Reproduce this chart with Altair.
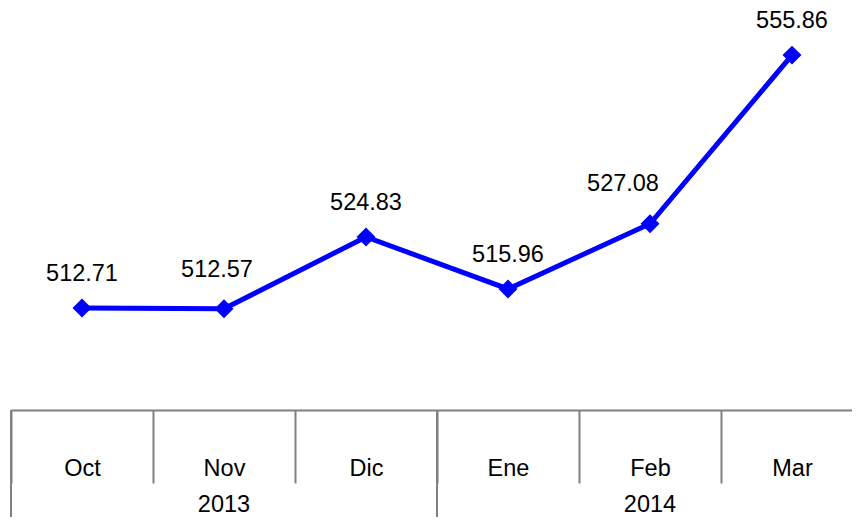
import altair as alt
import pandas as pd

months = ["Oct", "Nov", "Dic", "Ene", "Feb", "Mar"]
values = [512.71, 512.57, 524.83, 515.96, 527.08, 555.86]
labels = ["512.71", "512.57", "524.83", "515.96", "527.08", "555.86"]
years = ["2013", "2014"]
year_mid_month = ["Nov", "Feb"]
year_start_month = ["Oct", "Ene"]

df = pd.DataFrame({"month": months, "value": values, "label": labels})
ydf = pd.DataFrame({"year": years, "mid": year_mid_month, "start": year_start_month})

FONT = "Liberation Sans"
FS = 23.5
W, H = 841, 402
PAD_B = 107
BLUE = "#0000FF"
GRAY = "#808080"

# band scale runs slightly past the right edge of the drawing, as in the original
xscale = alt.Scale(type="band", domain=months, paddingInner=0, paddingOuter=0, range=[0, 852])
xaxis = alt.Axis(
    title=None, orient="bottom", tickBand="extent", tickSize=73,
    tickColor=GRAY, tickWidth=2, domainColor=GRAY, domainWidth=2,
    labelAngle=0, labelFont=FONT, labelFontSize=FS, labelColor="black",
    labelBaseline="middle", labelPadding=-15, grid=False,
)
yscale = alt.Scale(domain=[495.3, 563.9], nice=False, zero=False)


def xenc(field, band=0.5):
    return alt.X(f"{field}:N", scale=xscale, sort=months, axis=xaxis, bandPosition=band)


def yenc():
    return alt.Y("value:Q", scale=yscale, axis=None)


base = alt.Chart(df)
line = base.mark_line(color=BLUE, strokeWidth=5).encode(x=xenc("month"), y=yenc())
pts = base.mark_point(shape="diamond", filled=True, size=360, color=BLUE, opacity=1).encode(
    x=xenc("month"), y=yenc()
)

# data labels: most sit straight above their point, two are nudged clear of the line
nudged = {"Nov": (-7, -39), "Feb": (-27, -40)}
txt_layers = [
    base.transform_filter(
        alt.FieldOneOfPredicate(field="month", oneOf=[m for m in months if m not in nudged])
    ).mark_text(dy=-34, fontSize=FS, font=FONT, baseline="middle", color="black").encode(
        x=xenc("month"), y=yenc(), text="label:N"
    )
]
for m, (ddx, ddy) in nudged.items():
    txt_layers.append(
        base.transform_filter(alt.FieldEqualPredicate(field="month", equal=m))
        .mark_text(dx=ddx, dy=ddy, fontSize=FS, font=FONT, baseline="middle", color="black")
        .encode(x=xenc("month"), y=yenc(), text="label:N")
    )

ybase = alt.Chart(ydf)
yrules = ybase.mark_rule(color=GRAY, strokeWidth=2).encode(
    x=xenc("start", 0), y=alt.value(H), y2=alt.value(H + PAD_B)
)
ytext = ybase.mark_text(fontSize=FS, font=FONT, baseline="middle", color="black").encode(
    x=xenc("mid"), y=alt.value(H + 95), text="year:N"
)

chart = alt.layer(yrules, line, pts, *txt_layers, ytext).properties(
    width=W, height=H,
    autosize=alt.AutoSizeParams(type="none"),
    padding={"left": 3, "top": 0, "right": 0, "bottom": PAD_B},
).configure_view(stroke=None)

chart.save("out.html", embed_options={"renderer": "svg", "actions": False})
